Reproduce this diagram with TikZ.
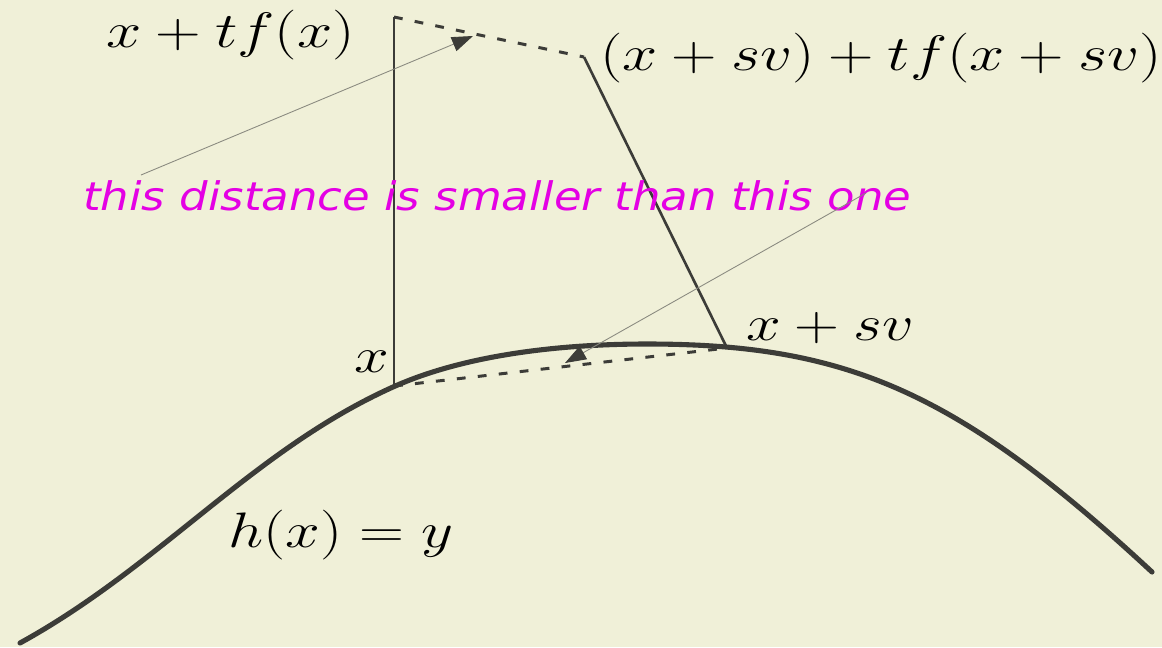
\RequirePackage{fix-cm}
\documentclass[tikz,border=0pt]{standalone}
\usepackage{fontspec}
\usepackage{graphicx}
\usetikzlibrary{arrows.meta}
\newfontfamily\djv{DejaVu Sans}
\definecolor{bg}{HTML}{F0F0D8}
\definecolor{ink}{HTML}{3C3C38}
\definecolor{thin}{HTML}{8A8A80}
\definecolor{mag}{HTML}{E400E4}
\tikzset{
 mathlbl/.style={inner sep=0pt, anchor=base west, font=\fontsize{28.35}{34}\selectfont},
 magtext/.style={inner sep=0pt, anchor=base west, text=mag, font=\djv\itshape\fontsize{22.4}{27}\selectfont},
 curve/.style={line width=2.9pt, draw=ink, line cap=round},
 solidseg/.style={line width=1.5pt, draw=ink},
 dashseg/.style={line width=1.7pt, draw=ink, dash pattern=on 5pt off 7pt},
 pointer/.style={line width=0.5pt, draw=thin, -{Triangle[length=12pt,width=8.5pt,color=ink]}},
}
\begin{document}
\begin{tikzpicture}[x=0.02cm,y=-0.02cm]
\fill[bg] (0,0) rectangle (1162,647);
\useasboundingbox (0,0) rectangle (1162,647);
% curve h(x)=y
\draw[curve] (20,643) .. controls (160,566) and (253,450) .. (393,387)
  .. controls (463,355.5) and (557,344) .. (647,344)
  .. controls (846,344) and (957,391) .. (1152,572);
% points
\coordinate (X) at (394,386);
\coordinate (XSV) at (727,348);
\coordinate (XTF) at (394,17);
\coordinate (XSVTF) at (584,57);
\coordinate (P1s) at (141,175);
\coordinate (P1e) at (473,36);
\coordinate (P2s) at (866,193);
\coordinate (P2e) at (565,363);
\draw[solidseg] (X) -- (XTF);
\draw[solidseg] (XSV) -- (XSVTF);
\draw[dashseg] (XTF) -- (XSVTF);
\draw[dashseg] (X) -- (XSV);
% labels
\node[mathlbl] (lxtf) at (106,47) {\scalebox{1.27}[1]{$x+tf(x)$}};
\node[mathlbl] (lxsvtf) at (600,70) {\scalebox{1.265}[1]{$(x+sv)+tf(x+sv)$}};
\node[mathlbl] (lxsv) at (746,340) {\scalebox{1.25}[1]{$x+sv$}};
\node[mathlbl] (lx) at (354,372) {\scalebox{1.25}[1]{$x$}};
\node[mathlbl] (lh) at (228,547) {\scalebox{1.25}[1]{$h(x)=y$}};
\node[magtext] (note) at (83,210) {\scalebox{1.142}[1]{this distance is smaller than this one}};
% pointers
\draw[pointer] (P1s) -- (P1e);
\draw[pointer] (P2s) -- (P2e);
\end{tikzpicture}
\end{document}
